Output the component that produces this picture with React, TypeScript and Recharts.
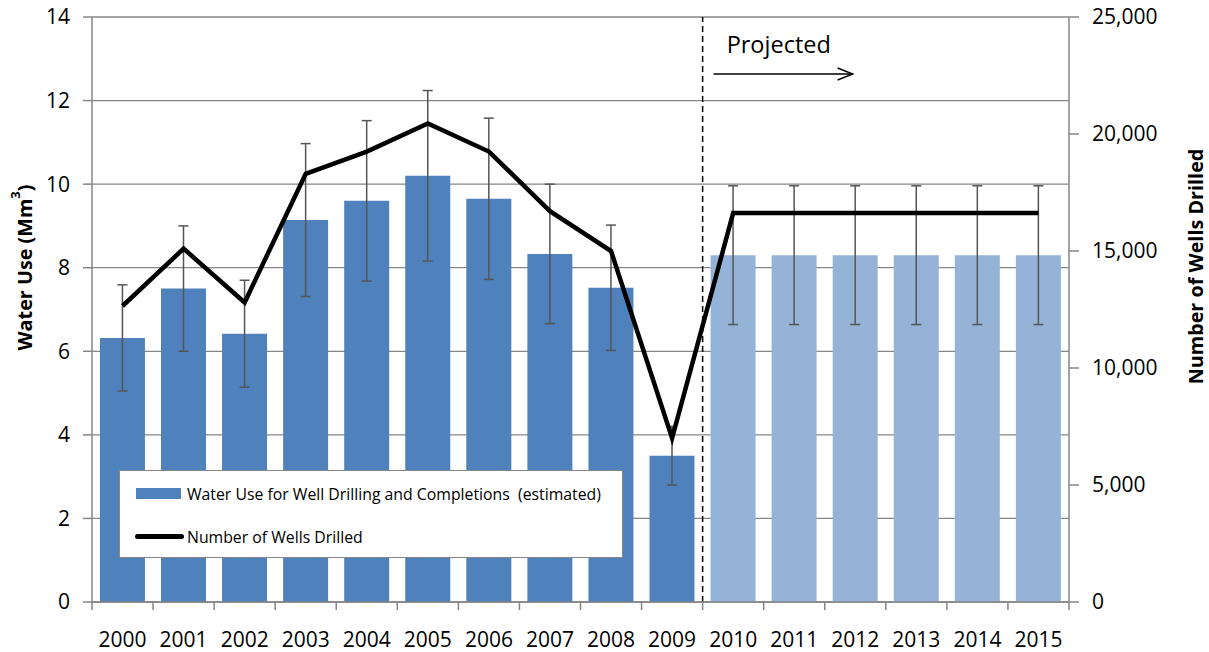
import React from 'react';
import {
  ComposedChart,
  Bar,
  Line,
  XAxis,
  YAxis,
  CartesianGrid,
  ErrorBar,
  Cell,
  ReferenceLine,
  Legend,
} from 'recharts';

const years = ['2000', '2001', '2002', '2003', '2004', '2005', '2006', '2007', '2008', '2009', '2010', '2011', '2012', '2013', '2014', '2015'];
const waterUse = [6.32, 7.5, 6.42, 9.14, 9.6, 10.2, 9.65, 8.33, 7.52, 3.5, 8.3, 8.3, 8.3, 8.3, 8.3, 8.3];
const waterUseError = [1.27, 1.5, 1.28, 1.83, 1.92, 2.04, 1.93, 1.67, 1.5, 0.7, 1.66, 1.66, 1.66, 1.66, 1.66, 1.66];
const wellsDrilled = [12650, 15100, 12800, 18300, 19250, 20450, 19250, 16700, 15000, 7000, 16620, 16620, 16620, 16620, 16620, 16620];
const isProjected = [false, false, false, false, false, false, false, false, false, false, true, true, true, true, true, true];
const leftTicks = [0, 2, 4, 6, 8, 10, 12, 14];
const rightTicks = [0, 5000, 10000, 15000, 20000, 25000];

const data = years.map((year, i) => ({
  year,
  water: waterUse[i],
  err: waterUseError[i],
  wells: wellsDrilled[i],
  projected: isProjected[i],
}));

const FONT = "'Open Sans', sans-serif";
const AXIS_GRAY = '#868686';
const HIST_BLUE = '#4F81BD';
const PROJ_BLUE = '#95B3D7';

const XTick = (props: any) => {
  const { x, y, payload, width, visibleTicksCount, index } = props;
  const count = visibleTicksCount || years.length;
  const band = (width || 977) / count;
  const left = x - band / 2;
  const right = x + band / 2;
  return (
    <g>
      <line x1={left} y1={y} x2={left} y2={y + 8} stroke={AXIS_GRAY} strokeWidth={1.5} />
      {index === count - 1 && (
        <line x1={right} y1={y} x2={right} y2={y + 8} stroke={AXIS_GRAY} strokeWidth={1.5} />
      )}
      <text x={x} y={y + 45} textAnchor="middle" fontSize={21} fontFamily={FONT} fill="#000">
        {payload.value}
      </text>
    </g>
  );
};

const LeftLabel = (props: any) => {
  const vb = props.viewBox || {};
  const cx = vb.x + 24;
  const cy = vb.y + vb.height / 2 - 42;
  return (
    <text
      x={cx}
      y={cy}
      transform={`rotate(-90, ${cx}, ${cy})`}
      textAnchor="middle"
      dominantBaseline="central"
      fontSize={19.8}
      fontWeight="bold"
      fontFamily={FONT}
      fill="#000"
    >
      Water Use (Mm<tspan baselineShift="super" fontSize={13}>3</tspan>)
    </text>
  );
};

const RightLabel = (props: any) => {
  const vb = props.viewBox || {};
  const cx = vb.x + 126;
  const cy = vb.y + vb.height / 2 - 43;
  return (
    <text
      x={cx}
      y={cy}
      transform={`rotate(-90, ${cx}, ${cy})`}
      textAnchor="middle"
      dominantBaseline="central"
      fontSize={19.8}
      fontWeight="bold"
      fontFamily={FONT}
      fill="#000"
    >
      Number of Wells Drilled
    </text>
  );
};

const ProjectedLabel = (props: any) => {
  const vb = props.viewBox || {};
  const x = vb.x;
  const y = vb.y;
  return (
    <g>
      <text x={x + 24} y={y + 36} fontSize={23.5} fontFamily={FONT} fill="#000">
        Projected
      </text>
      <line x1={x + 11} y1={y + 57} x2={x + 150} y2={y + 57} stroke="#000" strokeWidth={1.5} />
      <polyline
        points={`${x + 135},${y + 51} ${x + 150},${y + 57} ${x + 135},${y + 63}`}
        fill="none"
        stroke="#000"
        strokeWidth={1.5}
      />
    </g>
  );
};

const LegendBox = () => (
  <div
    style={{
      width: 504,
      height: 88,
      boxSizing: 'border-box',
      border: `1.5px solid ${AXIS_GRAY}`,
      background: '#fff',
      position: 'relative',
      fontFamily: FONT,
      fontSize: 15.8,
      color: '#000',
    }}
  >
    <div style={{ position: 'absolute', left: 16, top: 17, width: 45, height: 11, background: HIST_BLUE }} />
    <div style={{ position: 'absolute', left: 67, top: 13, lineHeight: '20px', whiteSpace: 'pre' }}>
      Water Use for Well Drilling and Completions  (estimated)
    </div>
    <div style={{ position: 'absolute', left: 15, top: 63, width: 49, height: 5, background: '#000', borderRadius: 3 }} />
    <div style={{ position: 'absolute', left: 67, top: 56, lineHeight: '20px', whiteSpace: 'pre' }}>
      Number of Wells Drilled
    </div>
  </div>
);

export default function App() {
  return (
    <div style={{ position: 'absolute', left: 0, top: 0, width: 1209, height: 652, background: '#fff', fontFamily: FONT }}>
      <ComposedChart
        width={1209}
        height={652}
        data={data}
        margin={{ top: 17, right: 0, bottom: 0, left: 0 }}
        barCategoryGap="13%"
      >
        <CartesianGrid yAxisId="left" vertical={false} stroke={AXIS_GRAY} strokeWidth={1.3} />
        <XAxis
          dataKey="year"
          height={50}
          interval={0}
          tickLine={false}
          tickSize={0}
          tickMargin={0}
          axisLine={{ stroke: AXIS_GRAY, strokeWidth: 1.5 }}
          tick={<XTick />}
        />
        <YAxis
          yAxisId="left"
          orientation="left"
          width={92}
          domain={[0, 14]}
          ticks={leftTicks}
          interval={0}
          tickSize={9}
          tickMargin={13}
          tickLine={{ stroke: AXIS_GRAY, strokeWidth: 1.5 }}
          axisLine={{ stroke: AXIS_GRAY, strokeWidth: 1.5 }}
          tick={{ fill: '#000', fontSize: 21, fontFamily: FONT }}
          label={<LeftLabel />}
        />
        <YAxis
          yAxisId="right"
          orientation="right"
          width={140}
          domain={[0, 25000]}
          ticks={rightTicks}
          interval={0}
          tickSize={10}
          tickMargin={13}
          tickFormatter={(v: number) => v.toLocaleString('en-US')}
          tickLine={{ stroke: AXIS_GRAY, strokeWidth: 1.5 }}
          axisLine={{ stroke: AXIS_GRAY, strokeWidth: 1.5 }}
          tick={{ fill: '#000', fontSize: 21, fontFamily: FONT, textAnchor: 'start' }}
          label={<RightLabel />}
        />
        <Legend
          verticalAlign="middle"
          align="center"
          layout="horizontal"
          content={<LegendBox />}
          wrapperStyle={{ position: 'absolute', left: 119, top: 470, width: 504, height: 88 }}
        />
        <Bar yAxisId="left" dataKey="water" name="Water Use for Well Drilling and Completions (estimated)" isAnimationActive={false}>
          {data.map((d, i) => (
            <Cell key={i} fill={d.projected ? PROJ_BLUE : HIST_BLUE} />
          ))}
          <ErrorBar dataKey="err" direction="y" width={5} stroke="#555" strokeWidth={1.5} isAnimationActive={false} />
        </Bar>
        <Line
          yAxisId="right"
          dataKey="wells"
          name="Number of Wells Drilled"
          stroke="#000"
          strokeWidth={4.5}
          dot={false}
          activeDot={false}
          isAnimationActive={false}
        />
        <ReferenceLine
          yAxisId="left"
          x="2009"
          position="end"
          stroke="#000"
          strokeWidth={1.5}
          strokeDasharray="6 4"
          label={<ProjectedLabel />}
        />
      </ComposedChart>
    </div>
  );
}
